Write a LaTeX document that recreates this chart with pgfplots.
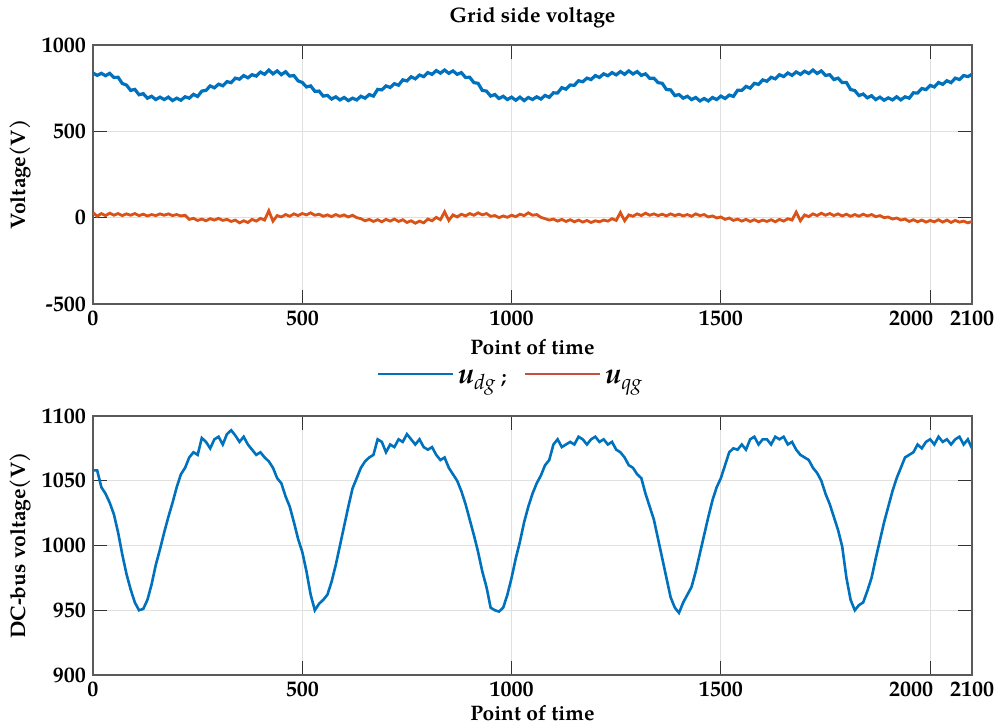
\documentclass[border=0pt]{standalone}
\usepackage{amsmath}
\usepackage{fontspec}
\setmainfont{texgyrepagella}[Extension=.otf, UprightFont=*-regular, BoldFont=*-bold, ItalicFont=*-italic, BoldItalicFont=*-bolditalic]
\usepackage{pgfplots}
\pgfplotsset{compat=1.18}
\definecolor{udblue}{HTML}{0072BD}
\definecolor{uqorange}{HTML}{D95319}
\definecolor{legred}{HTML}{C4503F}
\definecolor{boxgray}{HTML}{5A5A5A}

\pgfplotstableread{
x y
0 838
10 824
20 836
30 822
40 836
50 812
60 813
70 777
80 768
90 737
100 743
110 712
120 718
130 692
140 703
150 684
160 698
170 684
180 698
190 678
200 692
210 680
220 700
230 692
240 714
250 702
260 733
270 737
280 763
290 752
300 773
310 764
320 788
330 782
340 808
350 802
360 823
370 810
380 828
390 820
400 843
410 830
420 855
430 833
440 850
450 828
460 845
470 820
480 823
490 792
500 783
510 757
520 763
530 732
540 733
550 704
560 708
570 687
580 700
590 682
600 696
610 678
620 692
630 682
640 703
650 692
660 713
670 704
680 743
690 740
700 763
710 754
720 776
730 767
740 798
750 792
760 816
770 804
780 826
790 817
800 840
810 830
820 852
830 837
840 855
850 836
860 850
870 830
880 840
890 812
900 813
910 782
920 778
930 737
940 733
950 704
960 713
970 690
980 703
990 684
1000 698
1010 680
1020 698
1030 678
1040 696
1050 684
1060 700
1070 687
1080 708
1090 697
1100 723
1110 722
1120 753
1130 744
1140 768
1150 767
1160 793
1170 787
1180 808
1190 800
1200 823
1210 812
1220 833
1230 822
1240 840
1250 827
1260 846
1270 830
1280 850
1290 832
1300 846
1310 824
1320 833
1330 807
1340 808
1350 782
1360 778
1370 742
1380 740
1390 707
1400 713
1410 692
1420 703
1430 684
1440 696
1450 676
1460 690
1470 676
1480 696
1490 684
1500 704
1510 690
1520 710
1530 702
1540 738
1550 737
1560 760
1570 750
1580 778
1590 772
1600 798
1610 790
1620 813
1630 804
1640 828
1650 817
1660 838
1670 824
1680 844
1690 830
1700 848
1710 835
1720 855
1730 835
1740 850
1750 824
1760 828
1770 800
1780 808
1790 782
1800 783
1810 742
1820 736
1830 707
1840 716
1850 694
1860 706
1870 684
1880 698
1890 680
1900 694
1910 682
1920 700
1930 682
1940 700
1950 692
1960 723
1970 722
1980 748
1990 742
2000 766
2010 757
2020 783
2030 772
2040 793
2050 782
2060 808
2070 800
2080 823
2090 817
2100 830
}\udtable

\pgfplotstableread{
x y
0 30
10 8
20 24
30 12
40 26
50 14
60 24
70 12
80 22
90 14
100 24
110 12
120 20
130 10
140 18
150 12
160 22
170 14
180 22
190 12
200 18
210 10
220 14
230 -10
240 -4
250 -16
260 -8
270 -18
280 -6
290 -14
300 -4
310 -16
320 -10
330 -22
340 -14
350 -30
360 -18
370 -28
380 -10
390 -20
400 -4
410 -14
420 40
430 -20
440 12
450 4
460 18
470 8
480 22
490 12
500 24
510 16
520 28
530 14
540 20
550 8
560 16
570 6
580 18
590 8
600 16
610 4
620 14
630 0
640 -6
650 -18
660 -10
670 -22
680 -12
690 -24
700 -10
710 -20
720 -8
730 -22
740 -12
750 -28
760 -18
770 -32
780 -20
790 -30
800 -8
810 -18
820 2
830 -12
840 34
850 -16
860 16
870 4
880 20
890 10
900 24
910 14
920 28
930 16
940 24
950 8
960 12
970 0
980 10
990 2
1000 14
1010 6
1020 20
1030 12
1040 28
1050 14
1060 18
1070 2
1080 -6
1090 -14
1100 -8
1110 -20
1120 -10
1130 -22
1140 -12
1150 -24
1160 -14
1170 -26
1180 -16
1190 -28
1200 -18
1210 -24
1220 -14
1230 -20
1240 -6
1250 -16
1260 30
1270 -18
1280 16
1290 8
1300 22
1310 12
1320 26
1330 14
1340 22
1350 12
1360 20
1370 10
1380 22
1390 12
1400 20
1410 10
1420 18
1430 8
1440 22
1450 12
1460 18
1470 4
1480 10
1490 -2
1500 4
1510 -10
1520 -2
1530 -16
1540 -8
1550 -20
1560 -10
1570 -22
1580 -12
1590 -24
1600 -14
1610 -22
1620 -12
1630 -24
1640 -10
1650 -20
1660 -6
1670 -14
1680 32
1690 -18
1700 16
1710 6
1720 22
1730 12
1740 26
1750 14
1760 24
1770 12
1780 22
1790 10
1800 20
1810 8
1820 18
1830 8
1840 20
1850 10
1860 18
1870 6
1880 12
1890 0
1900 4
1910 -8
1920 -2
1930 -14
1940 -8
1950 -22
1960 -12
1970 -24
1980 -14
1990 -26
2000 -16
2010 -24
2020 -12
2030 -26
2040 -14
2050 -28
2060 -16
2070 -26
2080 -20
2090 -30
2100 -22
}\uqtable

\pgfplotstableread{
x y
0 1058
10 1058
20 1045
30 1040
40 1033
50 1024
60 1010
70 993
80 978
90 966
100 956
110 950
120 951
130 958
140 970
150 985
160 997
170 1010
180 1022
190 1033
200 1045
210 1055
220 1060
230 1068
240 1072
250 1070
260 1083
270 1080
280 1075
290 1082
300 1084
310 1078
320 1086
330 1089
340 1085
350 1080
360 1084
370 1078
380 1074
390 1070
400 1072
410 1068
420 1065
430 1060
440 1052
450 1048
460 1038
470 1030
480 1018
490 1005
500 995
510 980
520 962
530 950
540 955
550 958
560 962
570 972
580 985
590 1000
600 1015
610 1030
620 1044
630 1052
640 1060
650 1065
660 1068
670 1070
680 1082
690 1080
700 1072
710 1078
720 1076
730 1082
740 1080
750 1086
760 1082
770 1078
780 1082
790 1076
800 1074
810 1076
820 1070
830 1066
840 1068
850 1060
860 1055
870 1050
880 1042
890 1032
900 1020
910 1008
920 995
930 980
940 968
950 952
960 950
970 949
980 952
990 962
1000 975
1010 990
1020 1003
1030 1018
1040 1030
1050 1040
1060 1048
1070 1054
1080 1062
1090 1066
1100 1078
1110 1082
1120 1076
1130 1078
1140 1080
1150 1078
1160 1084
1170 1082
1180 1078
1190 1082
1200 1084
1210 1080
1220 1082
1230 1078
1240 1080
1250 1074
1260 1072
1270 1068
1280 1062
1290 1060
1300 1055
1310 1052
1320 1040
1330 1030
1340 1020
1350 1005
1360 990
1370 975
1380 960
1390 952
1400 948
1410 956
1420 962
1430 968
1440 980
1450 994
1460 1008
1470 1022
1480 1035
1490 1045
1500 1052
1510 1062
1520 1072
1530 1075
1540 1074
1550 1078
1560 1074
1570 1082
1580 1084
1590 1078
1600 1082
1610 1082
1620 1078
1630 1084
1640 1082
1650 1084
1660 1078
1670 1080
1680 1074
1690 1070
1700 1068
1710 1066
1720 1060
1730 1056
1740 1050
1750 1040
1760 1032
1770 1022
1780 1012
1790 999
1800 975
1810 958
1820 950
1830 954
1840 956
1850 965
1860 975
1870 990
1880 1004
1890 1018
1900 1030
1910 1042
1920 1052
1930 1060
1940 1068
1950 1070
1960 1072
1970 1078
1980 1075
1990 1080
2000 1082
2010 1078
2020 1084
2030 1080
2040 1082
2050 1078
2060 1082
2070 1084
2080 1078
2090 1082
2100 1075
}\dctable

\newcommand{\legu}[1]{\textbf{\textit{u}}\raisebox{-0.45ex}{\fontsize{10.5}{12}\selectfont\textit{#1}}}

\pgfplotsset{
  mataxis/.style={
    scale only axis,
    width=439.5pt,
    height=129.5pt,
    xmin=0, xmax=2100,
    xtick={0,500,1000,1500,2000,2100},
    xticklabels={0,500,1000,1500,\makebox[0pt][r]{2000\kern-1.5pt},2100},
    tick pos=both,
    tick align=inside,
    major tick length=7pt,
    tick style={black!80, line width=0.6pt},
    axis line style={boxgray, line width=0.7pt},
    grid=major,
    major grid style={draw=black!12, line width=0.6pt},
    tick label style={font=\fontsize{11}{12}\selectfont\bfseries},
    label style={font=\fontsize{10.5}{12}\selectfont\bfseries, anchor=center},
    title style={font=\fontsize{10.5}{12}\selectfont\bfseries, anchor=center},
    xlabel={Point of time},
    ylabel style={at={(axis description cs:-0.083,0.5)}},
  }
}

\begin{document}
\begin{tikzpicture}
\useasboundingbox (-46.5pt,-341pt) rectangle (451pt,22.5pt);
\begin{axis}[
  mataxis,
  at={(0,0)}, anchor=north west,
  ymin=-500, ymax=1000,
  ytick={-500,0,500,1000},
  yticklabels={-500,0,500,1000},
  ylabel={Voltage(V)},
  xlabel style={at={(axis description cs:0.5,-0.166)}},
  title={Grid side voltage},
  title style={at={(axis description cs:0.5,1.058)}},
  legend style={at={(axis description cs:0.476,-0.286)}, anchor=center,
    draw=none, fill=none, legend columns=2,
    /tikz/every even column/.append style={column sep=7pt},
    font=\fontsize{14.5}{16}\selectfont},
  legend image code/.code={\draw[#1, line width=1.1pt] (0pt,0.45ex) -- (37.5pt,0.45ex);},
]
\addplot[udblue, line width=1.6pt, forget plot] table[x=x, y=y] {\udtable};
\addplot[uqorange, line width=1.4pt, forget plot] table[x=x, y=y] {\uqtable};
\addlegendimage{udblue}
\addlegendentry{\legu{dg}\kern3pt{\fontsize{10}{12}\selectfont\bfseries ;}}
\addlegendimage{legred}
\addlegendentry{\legu{qg}}
\end{axis}
\begin{axis}[
  mataxis,
  at={(0,-185.5pt)}, anchor=north west,
  ymin=900, ymax=1100,
  ytick={900,950,1000,1050,1100},
  yticklabels={900,950,1000,1050,1100},
  ylabel={DC-bus voltage(V)},
  xlabel style={at={(axis description cs:0.5,-0.147)}},
]
\addplot[udblue, line width=1.3pt] table[x=x, y=y] {\dctable};
\end{axis}
\end{tikzpicture}
\end{document}
